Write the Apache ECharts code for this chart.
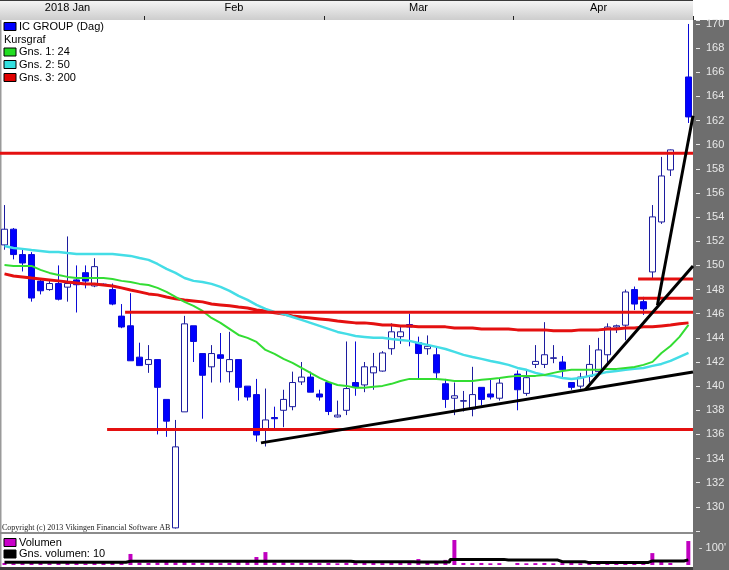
<!DOCTYPE html>
<html><head><meta charset="utf-8">
<script src="https://cdn.jsdelivr.net/npm/echarts@6/dist/echarts.min.js"></script>
<style>html,body{margin:0;padding:0;background:#fff}#c{width:729px;height:570px}</style>
</head><body><div id="c"></div>
<script>
// ---- DATA ----
const dates = [
 '2018-01-10','2018-01-11','2018-01-12','2018-01-15','2018-01-16','2018-01-17','2018-01-18','2018-01-19','2018-01-22','2018-01-23','2018-01-24','2018-01-25','2018-01-26','2018-01-29','2018-01-30','2018-01-31',
 '2018-02-01','2018-02-02','2018-02-05','2018-02-06','2018-02-07','2018-02-08','2018-02-09','2018-02-12','2018-02-13','2018-02-14','2018-02-15','2018-02-16','2018-02-19','2018-02-20','2018-02-21','2018-02-22','2018-02-23','2018-02-26','2018-02-27','2018-02-28',
 '2018-03-01','2018-03-02','2018-03-05','2018-03-06','2018-03-07','2018-03-08','2018-03-09','2018-03-12','2018-03-13','2018-03-14','2018-03-15','2018-03-16','2018-03-19','2018-03-20','2018-03-21','2018-03-22','2018-03-23','2018-03-26','2018-03-27','2018-03-28','2018-03-29',
 '2018-04-03','2018-04-04','2018-04-05','2018-04-06','2018-04-09','2018-04-10','2018-04-11','2018-04-12','2018-04-13','2018-04-16','2018-04-17','2018-04-18','2018-04-19','2018-04-20','2018-04-23','2018-04-24','2018-04-25','2018-04-26','2018-04-27','2018-04-30'
];
const opens = [151.7,153.0,150.9,150.9,148.7,148.0,148.5,148.2,148.8,149.4,148.3,148.45,148.0,145.8,145.0,142.4,141.8,142.2,138.9,128.26,137.87,145.0,142.7,141.6,142.6,141.2,142.2,140.0,139.3,136.4,137.4,138.0,138.3,140.35,140.75,139.35,140.3,137.45,138.0,140.3,140.1,141.1,141.25,143.1,144.1,145.1,143.6,143.1,142.6,140.2,139.0,138.75,138.1,139.9,139.35,139.0,null,141.0,139.4,141.8,141.8,142.3,142.0,140.3,140.0,140.8,141.2,142.6,144.9,145.05,148.0,147.0,149.46,153.6,157.91,null,165.61];
const closes = [153.0,150.9,150.2,147.3,147.9,148.5,147.2,148.5,148.4,148.7,149.9,148.4,146.8,144.9,142.1,141.7,142.2,139.9,137.1,134.97,145.16,143.7,140.9,142.7,142.3,142.2,139.9,139.1,135.95,137.2,137.3,138.9,140.3,140.75,139.5,139.1,137.9,137.6,139.8,139.9,141.6,141.6,142.75,144.5,144.5,144.9,142.7,143.3,141.1,138.9,139.2,138.8,139.3,138.9,139.1,140.25,null,139.7,140.7,142.05,142.6,142.35,141.35,139.9,140.75,141.8,143.0,144.9,145.0,147.8,146.8,146.4,154.02,157.41,159.57,null,162.3];
const lows = [151.3,150.5,149.5,147.0,147.6,147.9,147.1,147.0,146.1,148.1,148.2,148.33,146.7,144.8,142.1,141.7,141.1,136.0,135.8,128.2,137.87,142.0,137.3,140.3,140.3,140.3,138.8,138.8,135.4,135.0,136.4,136.6,138.0,140.1,139.5,138.8,137.6,137.4,137.6,139.2,139.5,139.7,141.2,142.6,143.5,143.3,140.6,142.6,140.6,138.2,137.6,137.9,137.5,138.4,138.9,138.8,null,138.0,139.2,141.5,141.5,141.9,140.6,139.7,139.8,140.3,141.0,141.9,144.4,143.8,146.3,145.9,148.96,153.44,157.41,null,161.8];
const highs = [155.0,153.1,151.3,151.1,148.9,148.7,150.0,152.4,150.0,150.0,150.6,148.5,148.5,146.8,147.7,143.6,143.4,142.2,138.9,137.2,145.82,145.0,142.7,143.4,144.4,144.5,142.2,140.0,140.6,139.8,138.3,139.7,141.2,142.0,141.2,139.7,140.3,138.8,143.7,143.7,142.0,142.75,142.9,145.2,145.0,146.0,144.1,144.2,143.3,140.6,140.3,139.6,141.6,139.9,140.6,140.6,null,141.3,141.3,143.4,145.3,143.4,142.5,140.3,141.1,143.4,144.0,145.2,145.1,148.0,148.25,147.4,155.0,158.99,159.6,null,170.0];
const ma24 = [150.04,149.96,149.96,149.96,149.63,149.38,149.21,149.05,148.96,148.96,148.96,148.96,148.88,148.72,148.63,148.47,148.38,148.14,147.81,147.39,146.98,146.65,146.23,145.65,145.24,144.74,144.24,144.00,143.66,143.00,142.67,142.26,141.93,141.51,141.10,140.68,140.35,140.10,140.02,139.86,139.86,139.94,140.02,140.19,140.43,140.60,140.60,140.60,140.60,140.52,140.43,140.43,140.43,140.52,140.60,140.68,140.77,140.85,140.85,140.85,140.93,141.10,141.26,141.35,141.35,141.35,141.35,141.43,141.43,141.51,141.59,141.76,142.01,142.75,143.33,144.08,145.07];
const ma50 = [151.61,151.45,151.37,151.28,151.20,151.12,151.12,151.03,150.95,150.95,150.95,150.95,150.95,150.87,150.79,150.62,150.46,150.12,149.71,149.38,148.96,148.72,148.63,148.47,148.22,147.89,147.47,147.14,146.73,146.40,146.15,145.98,145.73,145.49,145.24,144.99,144.74,144.49,144.33,144.16,144.08,144.00,144.00,143.91,143.83,143.75,143.58,143.42,143.25,143.08,142.84,142.59,142.42,142.26,142.09,141.93,141.76,141.51,141.35,141.10,140.93,140.85,140.68,140.60,140.68,140.85,141.01,141.18,141.26,141.35,141.43,141.51,141.68,141.84,142.09,142.42,142.75];
const ma200 = [149.30,149.13,149.05,148.96,148.88,148.80,148.72,148.63,148.55,148.47,148.47,148.38,148.30,148.14,147.97,147.81,147.64,147.56,147.39,147.23,147.14,147.06,146.98,146.81,146.73,146.65,146.56,146.48,146.31,146.23,146.07,145.98,145.82,145.73,145.65,145.57,145.49,145.40,145.32,145.24,145.24,145.16,145.07,145.07,144.99,144.99,144.91,144.91,144.91,144.91,144.82,144.82,144.82,144.74,144.74,144.74,144.74,144.66,144.66,144.66,144.66,144.58,144.58,144.58,144.66,144.66,144.66,144.74,144.74,144.82,144.82,144.91,144.91,144.99,145.07,145.16,145.24];
const volume = [12,10,11,14,12,10,13,15,12,10,14,12,13,12,65,14,12,15,18,16,20,13,12,14,11,12,20,28,47,76,14,16,12,13,12,11,12,10,13,11,12,14,11,12,13,12,35,12,14,30,147,12,11,12,10,11,null,12,10,11,12,10,11,12,10,11,10,12,11,12,11,10,70,20,12,null,141];
const volAvg10 = [16,16,16,16,16,16,16,16,16,16,16,16,16,16,22,22,22,22,22,22,22,22,22,22,22,22,22,22,22,22,22,22,22,22,22,22,22,22,22,19,19,19,19,19,19,19,17,17,17,17,33,33,33,33,33,33,29,29,29,29,29,29,19,19,19,14,14,14,14,14,14,14,24,24,24,24,30];
// support / resistance levels (price) and where they start (bar index)
const levelPrices = [159.3, 146.12, 136.4, 147.28, 148.88];
const levelStarts = [-0.5, 13.4, 11.4, 70.4, 70.4];
const levelEnd = 76.5;
// trend lines: start/end bar index and price
const trendX0 = [28.5, 64.5, 72.55];
const trendY0 = [135.3, 139.68, 146.7];
const trendX1 = [76.5, 76.5, 76.5];
const trendY1 = [141.17, 149.95, 162.4];
const priceTicks = [130,132,134,136,138,140,142,144,146,148,150,152,154,156,158,160,162,164,166,168,170];
const volumeTicks = [100];
const monthLabels = ['2018 Jan','Feb','Mar','Apr'];
const monthLabelIdx = [7, 26, 46, 66];
const monthStartIdx = [16, 36, 57];
const legendNames = ['IC GROUP (Dag)','Kursgraf','Gns. 1: 24','Gns. 2: 50','Gns. 3: 200'];
const volLegendNames = ['Volumen','Gns. volumen: 10'];

// ---- CHART ----
const FONT = 'Liberation Sans, Arial, sans-serif';
const candleData = opens.map((o,i)=> o==null ? ['-','-','-','-'] : [o, closes[i], lows[i], highs[i]]);
const volData = volume.map(v => v==null ? '-' : v);

const lineSeries = [];
levelPrices.forEach((p,i)=>{
  lineSeries.push({type:'line', xAxisIndex:1, yAxisIndex:0, data:[[levelStarts[i],p],[levelEnd,p]],
    showSymbol:false, silent:true, z:5, lineStyle:{color:'#e41010', width:3}});
});
trendX0.forEach((x,i)=>{
  lineSeries.push({type:'line', xAxisIndex:1, yAxisIndex:0, data:[[x,trendY0[i]],[trendX1[i],trendY1[i]]],
    showSymbol:false, silent:true, z:6, lineStyle:{color:'#000000', width:3}});
});

const legendColors = ['#0000ff', null, '#22dd22', '#33e0e0', '#e00000'];
const legendY = [26.5, 39.5, 52, 64.5, 77.5];
const graphics = [
  {type:'rect', z:-10, shape:{x:0,y:0,width:693,height:20},
   style:{fill:new echarts.graphic.LinearGradient(0,0,0,1,[{offset:0,color:'#f6f6f6'},{offset:1,color:'#cdcdcd'}])}},
  {type:'rect', z:-9, shape:{x:0,y:0,width:693,height:1}, style:{fill:'#3a3a3a'}},
  {type:'rect', z:-10, shape:{x:693,y:20,width:36,height:550}, style:{fill:'#6e6e6e'}},
  {type:'rect', z:-9, shape:{x:0,y:20,width:1.5,height:548}, style:{fill:'#9a9a9a'}},
  {type:'rect', z:-9, shape:{x:0,y:532,width:693,height:2}, style:{fill:'#8c8c8c'}},
  {type:'rect', z:-9, shape:{x:0,y:567,width:693,height:3}, style:{fill:'#3c3c3c'}},
  {type:'text', z:10, style:{text:'Copyright (c) 2013 Vikingen Financial Software AB', x:2, y:528,
    font:'8px Liberation Serif, serif', fill:'#222', verticalAlign:'middle'}}
];
legendNames.forEach((n,i)=>{
  if (legendColors[i]) graphics.push({type:'rect', z:10, shape:{x:4,y:legendY[i]-4,width:12,height:8},
     style:{fill:legendColors[i], stroke:'#000', lineWidth:1}});
  graphics.push({type:'text', z:10, style:{text:n, x: legendColors[i]?19:4, y:legendY[i], font:'11px '+FONT, fill:'#000', verticalAlign:'middle'}});
});
const volLegendColors = ['#c800c8','#000000'];
const volLegendY = [542.5, 554];
volLegendNames.forEach((n,i)=>{
  graphics.push({type:'rect', z:10, shape:{x:4,y:volLegendY[i]-4,width:12,height:8},
     style:{fill:volLegendColors[i], stroke:'#000', lineWidth:1}});
  graphics.push({type:'text', z:10, style:{text:n, x:19, y:volLegendY[i], font:'11px '+FONT, fill:'#000', verticalAlign:'middle'}});
});

const chart = echarts.init(document.getElementById('c'), null, {renderer:'canvas'});
chart.setOption({
  animation:false,
  backgroundColor:'#ffffff',
  grid:[
    {left:0, top:20, width:693, height:511},
    {left:0, top:535, width:693, height:30}
  ],
  xAxis:[
    {type:'category', gridIndex:0, data:dates, position:'top', boundaryGap:true,
     axisLine:{show:false, onZero:false},
     axisTick:{show:true, alignWithLabel:false, interval:(i)=>monthStartIdx.includes(i), length:4, lineStyle:{color:'#222'}},
     axisLabel:{interval:(i)=>monthLabelIdx.includes(i), margin:7, fontSize:11, fontFamily:FONT, color:'#000',
       formatter:(v,i)=>{const k=monthLabelIdx.indexOf(i); if(k<0) return ''; return k===1?'{s|'+monthLabels[k]+'}':monthLabels[k];},
       rich:{s:{padding:[0,9,0,0], fontSize:11, fontFamily:FONT, color:'#000'}}},
     splitLine:{show:false}},
    {type:'value', gridIndex:0, min:-0.5, max:76.5, show:false, axisLine:{onZero:false}},
    {type:'category', gridIndex:1, data:dates, show:false, boundaryGap:true, axisLine:{onZero:false}}
  ],
  yAxis:[
    {type:'value', gridIndex:0, position:'right', min:128, max:170.33, interval:2, offset:3,
     axisLine:{show:false, onZero:false}, splitLine:{show:false}, minorTick:{show:false},
     axisTick:{show:true, inside:false, length:4, lineStyle:{color:'#e6e6e6'}},
     axisLabel:{color:'#e8e8e8', fontSize:11, fontFamily:FONT, margin:10,
       formatter:(v)=> priceTicks.includes(v) ? String(v) : ''}},
    {type:'value', gridIndex:1, position:'right', min:0, max:176.5, interval:100, offset:3,
     axisLine:{show:false, onZero:false}, splitLine:{show:false},
     axisTick:{show:false},
     axisLabel:{color:'#e8e8e8', fontSize:11, fontFamily:FONT, margin:3,
       formatter:(v)=> volumeTicks.includes(v) ? "{t|-} " + v + "'" : '',
       rich:{t:{color:'#e8e8e8', fontSize:11, fontFamily:FONT}}}}
  ],
  series:[
    {type:'candlestick', name:'IC GROUP (Dag)', xAxisIndex:0, yAxisIndex:0, data:candleData, barWidth:7, z:2,
     itemStyle:{color:'#ffffff', color0:'#0000ff', borderColor:'#1c1c9e', borderColor0:'#0a0ad6', borderWidth:1}},
    {type:'line', name:'Gns. 3: 200', xAxisIndex:0, yAxisIndex:0, data:ma200, showSymbol:false, silent:true, z:3,
     lineStyle:{color:'#e41010', width:3}},
    {type:'line', name:'Gns. 2: 50', xAxisIndex:0, yAxisIndex:0, data:ma50, showSymbol:false, silent:true, z:3,
     lineStyle:{color:'#44dde6', width:2.5}},
    {type:'line', name:'Gns. 1: 24', xAxisIndex:0, yAxisIndex:0, data:ma24, showSymbol:false, silent:true, z:3,
     lineStyle:{color:'#33dd33', width:2}},
    ...lineSeries,
    {type:'bar', name:'Volumen', xAxisIndex:2, yAxisIndex:1, data:volData, barWidth:4, z:2,
     itemStyle:{color:'#c000c0'}},
    {type:'line', name:'Gns. volumen: 10', xAxisIndex:2, yAxisIndex:1, data:volAvg10, step:'middle', showSymbol:false, silent:true, z:3,
     lineStyle:{color:'#000000', width:3}}
  ],
  graphic:graphics
});
</script></body></html>
